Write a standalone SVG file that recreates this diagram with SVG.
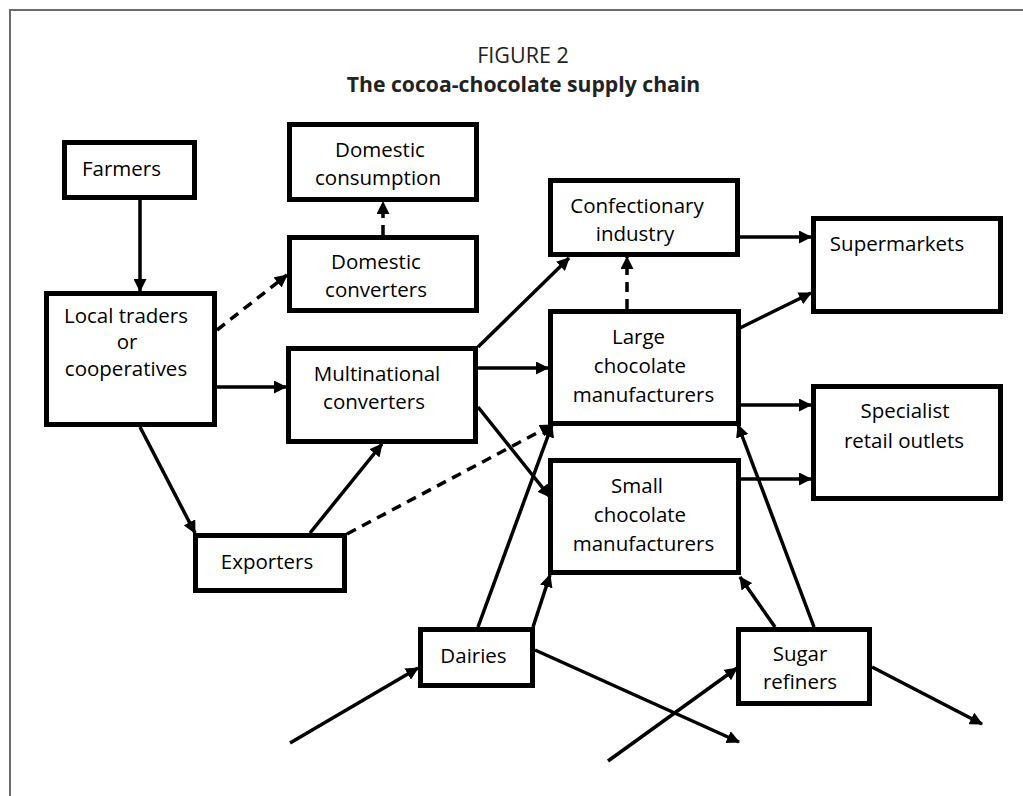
<svg xmlns="http://www.w3.org/2000/svg" width="1023" height="796" viewBox="0 0 1023 796">
<style>
.box{fill:#fff;stroke:#000;stroke-width:5}
.t{font-family:"Open Sans","Liberation Sans",sans-serif;font-size:20.5px;fill:#000;text-anchor:middle}
.c{fill:none;stroke:#000;stroke-width:3.5;marker-end:url(#ah)}
.d{stroke-dasharray:10 7}
</style>
<defs>
<marker id="ah" markerUnits="userSpaceOnUse" markerWidth="13" markerHeight="13" refX="12" refY="6.5" orient="auto"><path d="M0,0 L13,6.5 L0,13 z" fill="#000"/></marker>
</defs>
<rect width="1023" height="796" fill="#fff"/>
<path d="M10,796 V10 H1023" fill="none" stroke="#6b6b6b" stroke-width="2"/>
<text x="523" y="63" class="t" style="font-size:21.5px;fill:#222">FIGURE 2</text>
<text x="523.5" y="92" class="t" style="font-size:21.2px;font-weight:bold;fill:#222">The cocoa-chocolate supply chain</text>
<g id="connectors">
<line class="c" x1="140" y1="200" x2="140" y2="291"/>
<line class="c d" x1="217" y1="330" x2="287" y2="275"/>
<line class="c d" x1="383" y1="235" x2="383" y2="202"/>
<line class="c" x1="217" y1="387" x2="286" y2="387"/>
<line class="c" x1="140" y1="427" x2="195" y2="533"/>
<line class="c" x1="310" y1="533" x2="382" y2="444"/>
<line class="c d" x1="347" y1="534" x2="552" y2="425"/>
<line class="c" x1="478" y1="347" x2="569" y2="258"/>
<line class="c" x1="478" y1="368" x2="548" y2="368"/>
<line class="c" x1="478" y1="407" x2="550" y2="497"/>
<line class="c d" x1="627" y1="309" x2="627" y2="257"/>
<line class="c" x1="740" y1="237" x2="811" y2="237"/>
<line class="c" x1="740" y1="328" x2="811" y2="293"/>
<line class="c" x1="741" y1="405" x2="811" y2="405"/>
<line class="c" x1="741" y1="479" x2="811" y2="479"/>
<line class="c" x1="478" y1="627" x2="552" y2="425"/>
<line class="c" x1="533" y1="627" x2="550" y2="575"/>
<line class="c" x1="290" y1="743" x2="418" y2="668"/>
<line class="c" x1="535" y1="650" x2="739" y2="742"/>
<line class="c" x1="608" y1="761" x2="737" y2="668"/>
<line class="c" x1="775" y1="627" x2="740" y2="577"/>
<line class="c" x1="814" y1="627" x2="738" y2="425"/>
<line class="c" x1="872" y1="667" x2="982" y2="724"/>
</g>
<g id="farmers"><rect class="box" x="64.5" y="142.5" width="130" height="55"/><text class="t" x="121.5" y="176">Farmers</text></g>
<g id="domestic-consumption"><rect class="box" x="289.5" y="124.5" width="187" height="75"/><text class="t" x="380" y="157">Domestic</text><text class="t" x="378" y="185">consumption</text></g>
<g id="domestic-converters"><rect class="box" x="289.5" y="237.5" width="187" height="73"/><text class="t" x="376" y="269">Domestic</text><text class="t" x="376" y="297">converters</text></g>
<g id="local-traders"><rect class="box" x="46.5" y="293.5" width="168" height="131"/><text class="t" x="126" y="323">Local traders</text><text class="t" x="127" y="349">or</text><text class="t" x="126" y="376">cooperatives</text></g>
<g id="multinational"><rect class="box" x="288.5" y="348.5" width="187" height="93"/><text class="t" x="377" y="381">Multinational</text><text class="t" x="374" y="409">converters</text></g>
<g id="exporters"><rect class="box" x="195.5" y="535.5" width="149" height="55"/><text class="t" x="267" y="569">Exporters</text></g>
<g id="confectionary"><rect class="box" x="550.5" y="180.5" width="187" height="74"/><text class="t" x="637" y="213">Confectionary</text><text class="t" x="635" y="241">industry</text></g>
<g id="large-chocolate"><rect class="box" x="550.5" y="311.5" width="188" height="112"/><text class="t" x="638.5" y="344">Large</text><text class="t" x="640" y="373">chocolate</text><text class="t" x="643.5" y="402">manufacturers</text></g>
<g id="small-chocolate"><rect class="box" x="550.5" y="460.5" width="188" height="112"/><text class="t" x="637" y="493">Small</text><text class="t" x="640" y="522">chocolate</text><text class="t" x="643.5" y="551">manufacturers</text></g>
<g id="supermarkets"><rect class="box" x="813.5" y="218.5" width="187" height="93"/><text class="t" x="897" y="251">Supermarkets</text></g>
<g id="specialist"><rect class="box" x="813.5" y="386.5" width="187" height="112"/><text class="t" x="905" y="418">Specialist</text><text class="t" x="904" y="448">retail outlets</text></g>
<g id="dairies"><rect class="box" x="420.5" y="629.5" width="112" height="56"/><text class="t" x="473.5" y="663">Dairies</text></g>
<g id="sugar-refiners"><rect class="box" x="738.5" y="629.5" width="131" height="74"/><text class="t" x="800" y="661">Sugar</text><text class="t" x="800" y="689">refiners</text></g>
</svg>
